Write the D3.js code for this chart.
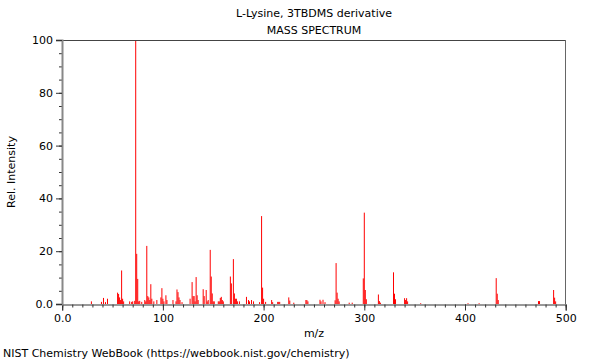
<!DOCTYPE html>
<html>
<head>
<meta charset="utf-8">
<script src="https://cdn.jsdelivr.net/npm/d3@7"></script>
<style>
  html, body { margin: 0; padding: 0; background: #fff; }
  text { font-family: "DejaVu Sans", sans-serif; }
</style>
</head>
<body>
<svg id="chart" width="600" height="360"></svg>
<script>
const title = "L-Lysine, 3TBDMS derivative";
const subtitle = "MASS SPECTRUM";
const xLabel = "m/z";
const yLabel = "Rel. Intensity";
const footer = "NIST Chemistry WebBook (https://webbook.nist.gov/chemistry)";

const mz = [29,39,41,43,45,55,56,57,58,59,60,61,67,69,70,72,73,74,75,76,77,79,82,83,84,85,86,87,88,89,91,94,98,99,100,101,103,104,110,113,114,115,116,117,119,127,129,130,131,132,133,134,135,140,141,143,144,145,147,148,149,150,151,155,156,157,158,159,160,167,168,170,171,172,173,174,176,183,185,186,188,190,196,198,199,200,202,208,209,214,215,216,225,226,230,242,243,244,256,257,259,261,271,272,273,274,275,285,288,299,300,301,302,314,315,316,329,330,331,340,341,342,343,356,403,414,431,432,433,473,474,488,489,490];
const intensity = [1.0,0.8,2.3,0.7,2.0,4.3,3.8,2.5,1.5,12.7,2.0,1.0,1.0,0.8,1.0,1.2,100,19,9.5,1.0,1.2,0.8,1.5,1.0,22,3.0,2.5,1.5,7.5,2.0,1.0,1.5,2.5,6.0,2.0,1.0,3.3,1.5,1.5,1.0,5.5,4.5,2.5,1.5,0.7,2.0,8.3,3.0,3.0,1.0,10.2,3.3,1.5,5.6,3.0,5.3,1.0,1.5,20.5,10.4,4.0,1.0,1.0,1.0,1.0,2.3,2.7,1.5,1.0,10.4,7.8,17,4.0,2.0,2.0,1.0,1.0,2.7,1.5,1.0,1.5,1.0,0.7,33.3,6.2,2.0,0.8,1.5,0.7,0.8,0.8,0.8,2.5,1.3,0.5,1.5,1.5,1.0,1.6,1.0,1.6,0.7,1.4,15.5,4.3,2.0,1.0,0.5,0.5,9.7,34.6,5.3,1.8,3.6,1.1,0.5,12,3.9,1.8,2.2,1.5,2.2,1.0,0.3,0.3,0.3,9.8,3.9,1.5,1.1,1.1,5.3,2.4,1.0];

const xMajor = [0,100,200,300,400,500];
const yMajor = [0,20,40,60,80,100];
const xMinor = d3.range(0, 501, 10);
const yMinor = d3.range(0, 101, 5);

const svg = d3.select("#chart");
const L = 62, R = 565, T = 40, B = 304;
const x = d3.scaleLinear().domain([0, 500]).range([L + 0.2, R + 0.7]);
const y = d3.scaleLinear().domain([0, 100]).range([B, T]);
const fmt = d => d === 0 ? "0.0" : String(d);

// peaks
svg.append("g").selectAll("line").data(mz).join("line")
  .attr("x1", (d) => x(d)).attr("x2", (d) => x(d))
  .attr("y1", y(0)).attr("y2", (d, i) => y(intensity[i]))
  .attr("stroke", "#ff0000").attr("stroke-width", 1);

// frame top/right
svg.append("line").attr("x1", L).attr("x2", R + 0.5).attr("y1", T + 0.5).attr("y2", T + 0.5).attr("stroke", "#444");
svg.append("line").attr("x1", R + 0.5).attr("x2", R + 0.5).attr("y1", T).attr("y2", B).attr("stroke", "#666");

// axes
const gx = svg.append("g").attr("transform", `translate(0,${B + 0.5})`);
gx.call(d3.axisBottom(x).tickValues(xMinor).tickSize(3).tickFormat(""));
gx.call(g => g.select(".domain").remove());
const gx2 = svg.append("g").attr("transform", `translate(0,${B + 0.5})`);
gx2.call(d3.axisBottom(x).tickValues(xMajor).tickSize(6).tickPadding(4).tickFormat(fmt));
gx2.select(".domain").attr("stroke", "#333");

const gy = svg.append("g").attr("transform", `translate(${L},0)`);
gy.call(d3.axisLeft(y).tickValues(yMinor).tickSize(3).tickFormat(""));
gy.call(g => g.select(".domain").remove());
const gy2 = svg.append("g").attr("transform", `translate(${L},0)`);
gy2.call(d3.axisLeft(y).tickValues(yMajor).tickSize(6).tickPadding(3).tickFormat(fmt));
gy2.select(".domain").attr("stroke", "#888").attr("stroke-width", 2);

svg.selectAll(".tick text").attr("font-size", 11).attr("fill", "#000").attr("font-family", "DejaVu Sans");
svg.selectAll(".tick line").attr("stroke", "#333");

// titles
svg.append("text").attr("x", 314).attr("y", 17).attr("text-anchor", "middle").attr("font-size", 11).text(title);
svg.append("text").attr("x", 314).attr("y", 34).attr("text-anchor", "middle").attr("font-size", 11).text(subtitle);
svg.append("text").attr("x", 314).attr("y", 337).attr("text-anchor", "middle").attr("font-size", 11).text(xLabel);
svg.append("text").attr("transform", "translate(15,172) rotate(-90)").attr("text-anchor", "middle").attr("font-size", 11).text(yLabel);
svg.append("text").attr("x", 3).attr("y", 357).attr("font-size", 11).text(footer);
</script>
</body>
</html>
